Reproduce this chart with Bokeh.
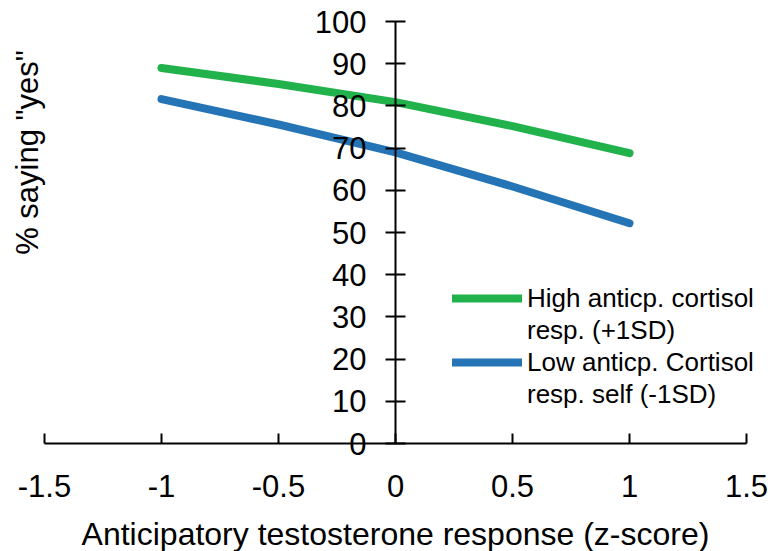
import math
from bokeh.plotting import figure
from bokeh.models import Range1d, FixedTicker, Legend, LegendItem, Label, ColumnDataSource
from bokeh.embed import file_html
from bokeh.resources import INLINE

# ---- data ----
z_scores = [-1.0, -0.5, 0.0, 0.5, 1.0]
high_cortisol = [89.0, 85.2, 80.9, 75.2, 68.8]
low_cortisol = [81.6, 75.6, 69.0, 60.9, 52.2]

x_ticks = [-1.5, -1.0, -0.5, 0.0, 0.5, 1.0, 1.5]
x_tick_labels = ["-1.5", "-1", "-0.5", "0", "0.5", "1", "1.5"]
y_ticks = [0, 10, 20, 30, 40, 50, 60, 70, 80, 90, 100]
y_tick_labels = ["0", "10", "20", "30", "40", "50", "60", "70", "80", "90", "100"]

series_labels = [["High anticp. cortisol", "resp. (+1SD)"],
                 ["Low anticp. Cortisol", "resp. self (-1SD)"]]

x_title = "Anticipatory testosterone response (z-score)"
y_title = '% saying "yes"'

GREEN = "#22B24C"
BLUE = "#2474B6"
FONT = "Liberation Sans"

W, H = 770, 551
# axis extents in pixels (plot area): x -1.5..1.5 -> 44..746, y 0..100 -> 443..21
X_PX0, X_PX1, Y_PX0, Y_PX1 = 44, 746, 443, 21
xs = (X_PX1 - X_PX0) / (x_ticks[-1] - x_ticks[0])
ys = (Y_PX0 - Y_PX1) / (y_ticks[-1] - y_ticks[0])
x_range = Range1d(x_ticks[0] - X_PX0 / xs, x_ticks[-1] + (W - X_PX1) / xs)
y_range = Range1d(y_ticks[0] - (H - Y_PX0) / ys, y_ticks[-1] + Y_PX1 / ys)

p = figure(width=W, height=H, x_range=x_range, y_range=y_range,
           output_backend="svg", toolbar_location=None,
           min_border_left=0, min_border_right=0,
           min_border_top=0, min_border_bottom=0)
p.xgrid.visible = False
p.ygrid.visible = False
p.outline_line_color = None
p.background_fill_color = "white"

# x axis at y = 0
xa = p.xaxis[0]
xa.fixed_location = 0
xa.bounds = (x_ticks[0], x_ticks[-1])
xa.ticker = FixedTicker(ticks=x_ticks)
xa.major_label_overrides = {t: s for t, s in zip(x_ticks, x_tick_labels)}
xa.major_tick_in = 10
xa.major_tick_out = 0
xa.minor_tick_line_color = None
xa.axis_line_width = 2
xa.major_tick_line_width = 2
xa.axis_line_color = "black"
xa.major_tick_line_color = "black"
xa.major_label_text_font = FONT
xa.major_label_text_font_size = "31px"
xa.major_label_text_color = "black"
xa.major_label_standoff = 31
xa.axis_label = x_title
xa.axis_label_text_font = FONT
xa.axis_label_text_font_size = "32px"
xa.axis_label_text_font_style = "normal"
xa.axis_label_text_color = "black"
xa.axis_label_standoff = 16

# y axis crossing at x = 0
ya = p.yaxis[0]
ya.fixed_location = 0
ya.bounds = (y_ticks[0], y_ticks[-1])
ya.ticker = FixedTicker(ticks=y_ticks)
ya.major_label_overrides = {t: s for t, s in zip(y_ticks, y_tick_labels)}
ya.major_tick_in = 10
ya.major_tick_out = 10
ya.minor_tick_line_color = None
ya.axis_line_width = 2
ya.major_tick_line_width = 2
ya.axis_line_color = "black"
ya.major_tick_line_color = "black"
ya.major_label_text_font = FONT
ya.major_label_text_font_size = "31px"
ya.major_label_text_color = "black"
ya.major_label_standoff = 19

# y axis title
p.add_layout(Label(x=27, y=H - 152, x_units="screen", y_units="screen",
                   text=y_title, angle=math.pi / 2,
                   text_align="center", text_baseline="middle",
                   text_font=FONT, text_font_size="31px", text_color="black"))

# series lines
r_high = p.line(z_scores, high_cortisol, line_color=GREEN, line_width=8,
                line_cap="round", line_join="round")
r_low = p.line(z_scores, low_cortisol, line_color=BLUE, line_width=8,
               line_cap="round", line_join="round")
blank = p.line(x="x", y="y", source=ColumnDataSource(dict(x=[], y=[])), line_alpha=0)

legend = Legend(items=[
    LegendItem(label=series_labels[0][0], renderers=[r_high]),
    LegendItem(label=series_labels[0][1], renderers=[blank]),
    LegendItem(label=series_labels[1][0], renderers=[r_low]),
    LegendItem(label=series_labels[1][1], renderers=[blank]),
], location=(452, H - 410), glyph_width=70, glyph_height=32, label_height=32,
    spacing=0, padding=0, margin=0, label_standoff=5,
    border_line_color=None, background_fill_alpha=0,
    label_text_font=FONT, label_text_font_size="26px", label_text_color="black")
p.add_layout(legend)

open("out.html", "w").write(file_html(p, INLINE))
